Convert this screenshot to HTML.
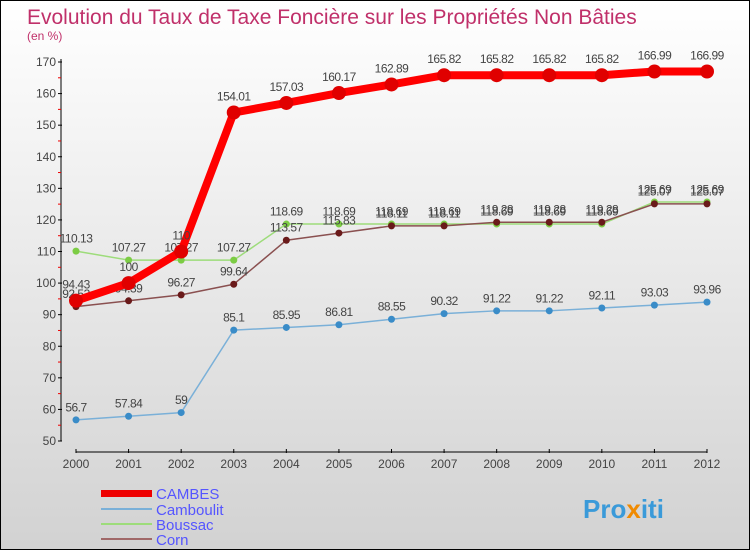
<!DOCTYPE html>
<html><head><meta charset="utf-8"><style>
body{margin:0}
#c{width:750px;height:550px;position:relative;font-family:"Liberation Sans",sans-serif;background:linear-gradient(#fff,#d2d2d2);box-sizing:border-box;border:1px solid #000}
</style></head><body>
<div id="c">
<svg id="s" width="750" height="550" style="position:absolute;left:0;top:0">
<text x="26" y="23" font-size="21" fill="#c0306a">Evolution du Taux de Taxe Foncière sur les Propriétés Non Bâties</text>
<text x="26" y="39" font-size="12" fill="#c0306a">(en %)</text>
<g font-size="15" fill="#5555ff">
<rect x="100" y="489" width="51" height="7" fill="#e00"/>
<text x="155" y="498">CAMBES</text>
<rect x="100" y="507" width="51" height="2" fill="#7ab0d8"/>
<text x="155" y="514">Camboulit</text>
<rect x="100" y="522" width="51" height="2" fill="#9ddc7a"/>
<text x="155" y="529">Boussac</text>
<rect x="100" y="537" width="51" height="2" fill="#a06868"/>
<text x="155" y="544">Corn</text>
</g>
<text x="582" y="517" font-size="26" font-weight="bold" fill="#3a9ad9">Pro<tspan fill="#f08a00">x</tspan>iti</text>
</svg>
</div>
<script>
const years=[2000,2001,2002,2003,2004,2005,2006,2007,2008,2009,2010,2011,2012];
const yTicks=[50,60,70,80,90,100,110,120,130,140,150,160,170];
const cambes=[94.43,100,110,154.01,157.03,160.17,162.89,165.82,165.82,165.82,165.82,166.99,166.99];
const camboulit=[56.7,57.84,59,85.1,85.95,86.81,88.55,90.32,91.22,91.22,92.11,93.03,93.96];
const boussac=[110.13,107.27,107.27,107.27,118.69,118.69,118.69,118.69,118.69,118.69,118.69,125.69,125.69];
const corn=[92.53,94.39,96.27,99.64,113.57,115.83,118.11,118.11,119.28,119.28,119.28,125.07,125.07];
const NS="http://www.w3.org/2000/svg",s=document.getElementById('s');
const X=i=>75+i*(706-75)/(years.length-1);
const Y=v=>440-(v-50)*(440-61)/120;
function el(t,a,p){const e=document.createElementNS(NS,t);for(const k in a)e.setAttribute(k,a[k]);(p||s).appendChild(e);return e;}
const ax=el('g',{});


el('line',{x1:60,y1:58,x2:60,y2:440,stroke:'#000'},ax);
el('line',{x1:75,y1:451,x2:706,y2:451,stroke:'#000'},ax);
yTicks.forEach(v=>{
  el('line',{x1:57,y1:Y(v),x2:61,y2:Y(v),stroke:'#000'},ax);
  if(v<170)el('line',{x1:57,y1:Y(v+5),x2:60,y2:Y(v+5),stroke:'#e00'},ax);
  const t=el('text',{x:55,y:Y(v)+4,'text-anchor':'end','font-size':12,fill:'#444'},ax);
  
  
  t.textContent=v;
});
years.forEach((y,i)=>{
  el('line',{x1:X(i),y1:448,x2:X(i),y2:452,stroke:'#000'},ax);
  const t=el('text',{x:X(i),y:467,'text-anchor':'middle','font-size':12,fill:'#444'},ax);
  
  
  t.textContent=y;
});
function series(name,d,col,dot,w,r){
  const g=el('g',{});
  
  
  el('polyline',{points:d.map((v,i)=>X(i)+','+Y(v)).join(' '),fill:'none',stroke:col,'stroke-width':w,'stroke-linejoin':'round'},g);
  d.forEach((v,i)=>{
    const c=el('circle',{cx:X(i),cy:Y(v),r:r,fill:dot},g);
    
    
    const t=el('text',{x:X(i),y:Y(v)-r-5,'text-anchor':'middle','font-size':12,fill:'#444','letter-spacing':'-0.5'},g);
    
    
    t.textContent=v;
  });
}
series('camboulit',camboulit,'#7ab0d8','#3a8cc8',1.5,3.5);
series('boussac',boussac,'#9ddc7a','#7ccc44',1.5,3.5);
series('corn',corn,'#8a5050','#6a1a1a',1.5,3.5);
series('cambes',cambes,'#ff0000','#e00000',8,7);
</script>
</body></html>
